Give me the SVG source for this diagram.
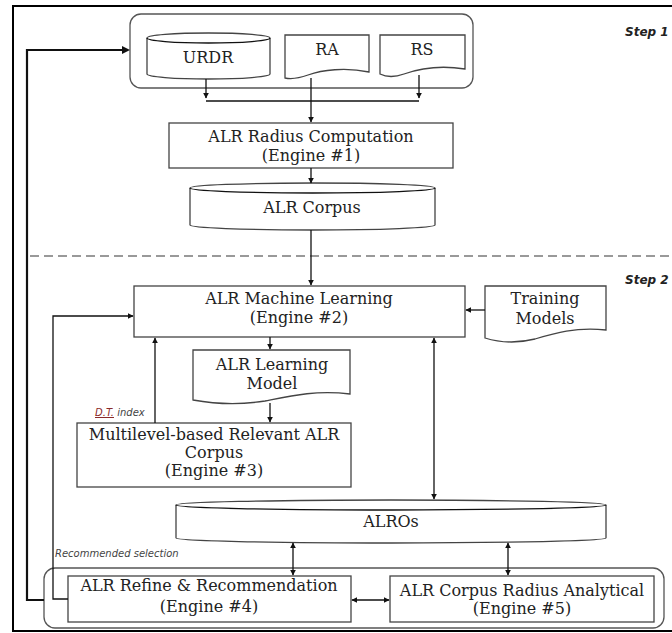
<svg xmlns="http://www.w3.org/2000/svg" width="672" height="633" viewBox="0 0 672 633">
<defs>
<marker id="ah" viewBox="0 0 10 10" refX="9" refY="5" markerWidth="6" markerHeight="6" orient="auto-start-reverse" markerUnits="userSpaceOnUse">
<path d="M0,0 L10,5 L0,10 Z" fill="#111"/>
</marker>
<style>
.box{fill:#fff;stroke:#444;stroke-width:1.3}
.grp{fill:none;stroke:#555;stroke-width:1.3}
.t{font-family:"DejaVu Serif","Liberation Serif",serif;font-size:16px;fill:#222;text-anchor:middle}
.step{font-family:"DejaVu Sans",sans-serif;font-size:12px;font-weight:bold;font-style:italic;fill:#222}
.lbl{font-family:"DejaVu Sans",sans-serif;font-size:10px;font-style:italic;fill:#444}
.c{fill:none;stroke:#111;stroke-width:1.3}
.ca{fill:none;stroke:#111;stroke-width:1.3;marker-end:url(#ah)}
.cb{fill:none;stroke:#111;stroke-width:1.3;marker-end:url(#ah);marker-start:url(#ah)}
</style>
</defs>
<rect x="0" y="0" width="672" height="633" fill="#fff"/>
<rect x="13" y="6" width="665" height="625" fill="none" stroke="#000" stroke-width="2"/>
<line x1="30" y1="256" x2="672" y2="256" stroke="#999" stroke-width="2" stroke-dasharray="9,5"/>
<text class="step" x="625" y="36">Step 1</text>
<text class="step" x="625" y="284">Step 2</text>

<g id="step1-group">
<rect class="grp" x="130" y="14" width="343" height="74" rx="11"/>
</g>
<g id="urdr">
<path class="box" d="M147,38 A61.5,5 0 0,1 270,38 L270,74 A61.5,5 0 0,1 147,74 Z"/>
<path class="c" d="M147,38 A61.5,5 0 0,0 270,38" stroke="#444"/>
<text class="t" x="208" y="63">URDR</text>
</g>
<g id="ra">
<path class="box" d="M285,35 H369 V72 C345,67 322,70 308,75 C297,79 290,79 285,78 Z"/>
<text class="t" x="327" y="55">RA</text>
</g>
<g id="rs">
<path class="box" d="M380,35 H465 V69 C440,65 418,69 404,74 C393,78 386,77 380,74 Z"/>
<text class="t" x="422" y="55">RS</text>
</g>
<g id="engine1">
<rect class="box" x="169" y="123" width="284" height="45"/>
<text class="t" x="311" y="142">ALR Radius Computation</text>
<text class="t" x="311" y="161">(Engine #1)</text>
</g>
<g id="alr-corpus">
<path class="box" d="M190,188 A122.5,5 0 0,1 435,188 L435,225 A122.5,5 0 0,1 190,225 Z"/>
<path class="c" d="M190,188 A122.5,5 0 0,0 435,188" stroke="#444"/>
<text class="t" x="312" y="213">ALR Corpus</text>
</g>
<g id="engine2">
<rect class="box" x="134" y="286" width="331" height="51"/>
<text class="t" x="299" y="304">ALR Machine Learning</text>
<text class="t" x="299" y="323">(Engine #2)</text>
</g>
<g id="training-models">
<path class="box" d="M485,286 H606 V330 C575,327 555,333 535,339 C515,344 498,342 485,338 Z"/>
<text class="t" x="545" y="304">Training</text>
<text class="t" x="545" y="324">Models</text>
</g>
<g id="learning-model">
<path class="box" d="M193,350 H350 V394 C315,390 290,396 265,401 C240,405 215,404 193,400 Z"/>
<text class="t" x="272" y="370">ALR Learning</text>
<text class="t" x="272" y="389">Model</text>
</g>
<g id="engine3">
<rect class="box" x="77" y="423" width="274" height="64"/>
<text class="t" x="214" y="440">Multilevel-based Relevant ALR</text>
<text class="t" x="214" y="458">Corpus</text>
<text class="t" x="214" y="476">(Engine #3)</text>
</g>
<g id="alros">
<path class="box" d="M176,505 A215,5 0 0,1 606,505 L606,538 A215,5 0 0,1 176,538 Z"/>
<path class="c" d="M176,505 A215,5 0 0,0 606,505" stroke="#444"/>
<text class="t" x="391" y="527">ALROs</text>
</g>
<g id="step2-bottom-group">
<rect class="grp" x="44" y="568" width="620" height="60" rx="11"/>
</g>
<g id="engine4">
<rect class="box" x="68" y="576" width="283" height="46"/>
<text class="t" x="209" y="591">ALR Refine &amp; Recommendation</text>
<text class="t" x="209" y="612">(Engine #4)</text>
</g>
<g id="engine5">
<rect class="box" x="390" y="576" width="264" height="46"/>
<text class="t" x="522" y="596">ALR Corpus Radius Analytical</text>
<text class="t" x="522" y="614">(Engine #5)</text>
</g>

<g id="connectors">
<path class="ca" d="M206,79 V98"/>
<path class="c" d="M311,78 V101"/>
<path class="ca" d="M419,75 V98"/>
<path class="c" d="M206,101 H419"/>
<path class="ca" d="M311,101 V122"/>
<path class="ca" d="M311,168 V183"/>
<path class="ca" d="M311,230 V285"/>
<path class="ca" d="M485,310 H466"/>
<path class="ca" d="M270,337 V349"/>
<path class="ca" d="M270,403 V422"/>
<path class="ca" d="M155,423 V338"/>
<path class="cb" d="M434,338 V499"/>
<path class="cb" d="M293,543 V575"/>
<path class="cb" d="M508,543 V575"/>
<path class="cb" d="M352,600 H389"/>
<path class="ca" d="M68,599 H53 V316 H133"/>
<path fill="none" stroke="#111" stroke-width="2.2" d="M44,600 H27 V50 H124"/>
<path d="M122,46 L130,50 L122,54 Z" fill="#111"/>
<text class="lbl" x="95" y="416"><tspan fill="#8b2a2a" text-decoration="underline">D.T.</tspan> index</text>
<text class="lbl" x="55" y="557">Recommended selection</text>
</g>
</svg>
